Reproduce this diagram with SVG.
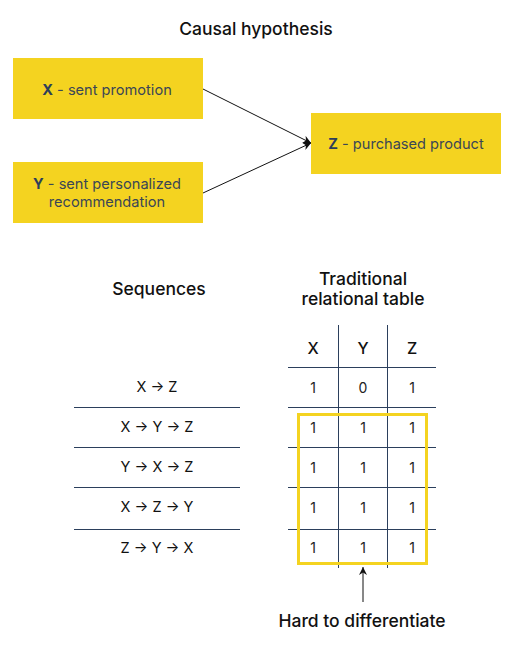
<svg xmlns="http://www.w3.org/2000/svg" width="513" height="669" viewBox="0 0 513 669">
<defs>
<style>
text{font-family:"Inter","Liberation Sans",sans-serif;}
.title{font-size:17.5px;font-weight:500;fill:#111;text-anchor:middle;}
.box{fill:#F4D320;}
.bt{font-size:14.6px;fill:#3a4656;text-anchor:middle;}
.bv{font-weight:bold;fill:#2c3e5a;}
.seq{font-size:14.5px;fill:#111;text-anchor:middle;}
.cell{font-size:14px;fill:#222;text-anchor:middle;}
.hd{font-size:16px;font-weight:500;fill:#111;text-anchor:middle;}
.grid{stroke:#2b3f5c;stroke-width:1;}
.conn{stroke:#111;stroke-width:1;fill:none;}
</style>
<marker id="ah" viewBox="0 0 10 10" refX="10" refY="5" markerWidth="8" markerHeight="8" orient="auto" markerUnits="userSpaceOnUse">
<path d="M0,0 L10,5 L0,10 L3,5 Z" fill="#111"/>
</marker>
</defs>
<rect width="513" height="669" fill="#fff"/>
<text class="title" x="256" y="35">Causal hypothesis</text>
<g id="nodeX"><rect class="box" x="13" y="58" width="190" height="61"/><text class="bt" x="107" y="95"><tspan class="bv">X</tspan> - sent promotion</text></g>
<g id="nodeY"><rect class="box" x="13" y="162" width="190" height="61"/><text class="bt" x="107" y="189"><tspan class="bv">Y</tspan> - sent personalized</text><text class="bt" x="107" y="207">recommendation</text></g>
<g id="nodeZ"><rect class="box" x="311" y="113" width="190" height="61"/><text class="bt" x="406" y="149"><tspan class="bv">Z</tspan> - purchased product</text></g>
<g id="connectors">
<line class="conn" x1="203" y1="89" x2="311" y2="143" marker-end="url(#ah)"/>
<line class="conn" x1="203" y1="193" x2="311" y2="143" marker-end="url(#ah)"/>
<line class="conn" x1="363" y1="602" x2="363" y2="567" marker-end="url(#ah)"/>
</g>
<g id="sequences">
<text class="title" x="159" y="295">Sequences</text>
<text class="seq" x="157" y="392">X → Z</text>
<text class="seq" x="157" y="432">X → Y → Z</text>
<text class="seq" x="157" y="472">Y → X → Z</text>
<text class="seq" x="157" y="512">X → Z → Y</text>
<text class="seq" x="157" y="553">Z → Y → X</text>
<line class="grid" x1="74" y1="407.5" x2="240" y2="407.5"/>
<line class="grid" x1="74" y1="447.5" x2="240" y2="447.5"/>
<line class="grid" x1="74" y1="487.5" x2="240" y2="487.5"/>
<line class="grid" x1="74" y1="529.5" x2="240" y2="529.5"/>
</g>
<g id="table">
<text class="title" x="363" y="285">Traditional</text>
<text class="title" x="363" y="305">relational table</text>
<line class="grid" x1="338.5" y1="325" x2="338.5" y2="568"/>
<line class="grid" x1="387.5" y1="325" x2="387.5" y2="568"/>
<line class="grid" x1="288" y1="367.5" x2="436" y2="367.5"/>
<line class="grid" x1="288" y1="407.5" x2="436" y2="407.5"/>
<line class="grid" x1="288" y1="447.5" x2="436" y2="447.5"/>
<line class="grid" x1="288" y1="487.5" x2="436" y2="487.5"/>
<line class="grid" x1="288" y1="529.5" x2="436" y2="529.5"/>
<text class="hd" x="313" y="354">X</text><text class="hd" x="363" y="354">Y</text><text class="hd" x="412" y="354">Z</text>
<text class="cell" x="313" y="393">1</text><text class="cell" x="363" y="393">0</text><text class="cell" x="412" y="393">1</text>
<text class="cell" x="313" y="433">1</text><text class="cell" x="363" y="433">1</text><text class="cell" x="412" y="433">1</text>
<text class="cell" x="313" y="473">1</text><text class="cell" x="363" y="473">1</text><text class="cell" x="412" y="473">1</text>
<text class="cell" x="313" y="513">1</text><text class="cell" x="363" y="513">1</text><text class="cell" x="412" y="513">1</text>
<text class="cell" x="313" y="553">1</text><text class="cell" x="363" y="553">1</text><text class="cell" x="412" y="553">1</text>
<rect x="298.5" y="414.5" width="128" height="149" fill="none" stroke="#F4D320" stroke-width="3"/>
</g>
<text class="title" x="362" y="627">Hard to differentiate</text>
</svg>
